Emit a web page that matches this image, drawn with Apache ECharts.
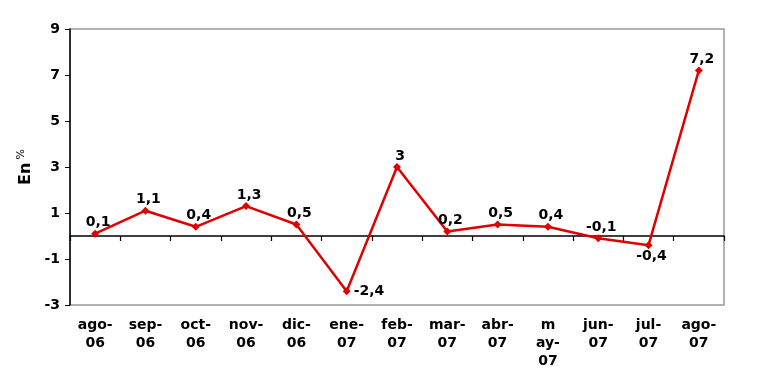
<!DOCTYPE html>
<html>
<head>
<meta charset="utf-8">
<script src="https://cdn.jsdelivr.net/npm/echarts@6/dist/echarts.min.js"></script>
<style>html,body{margin:0;padding:0;background:#fff;}#c{width:760px;height:381px;}</style>
</head>
<body>
<div id="c"></div>
<script>
const categories = ['ago-\n06','sep-\n06','oct-\n06','nov-\n06','dic-\n06','ene-\n07','feb-\n07','mar-\n07','abr-\n07','m\nay-\n07','jun-\n07','jul-\n07','ago-\n07'];
const values = [0.1, 1.1, 0.4, 1.3, 0.5, -2.4, 3, 0.2, 0.5, 0.4, -0.1, -0.4, 7.2];
const labelPos = ['top','top','top','top','top','right','top','top','top','top','top','bottom','top'];

const font = '"DejaVu Sans", Verdana, sans-serif';
const chart = echarts.init(document.getElementById('c'));
chart.setOption({
  animation: false,
  backgroundColor: '#fff',
  grid: { left: 70, right: 36, top: 29, bottom: 76, show: true, borderColor: '#999', borderWidth: 1.5, backgroundColor: '#fff' },
  xAxis: [
    {
      type: 'category', data: categories, position: 'bottom',
      axisLine: { onZero: true, lineStyle: { color: '#000', width: 1.5 } },
      axisTick: { show: true, length: 5, lineStyle: { color: '#000', width: 1.2 } },
      axisLabel: { show: false }
    },
    {
      type: 'category', data: categories, position: 'bottom',
      axisLine: { onZero: false, show: false },
      axisTick: { show: false },
      axisLabel: { show: true, color: '#000', fontFamily: font, fontWeight: 'bold', fontSize: 14, lineHeight: 18, margin: 11, interval: 0 }
    }
  ],
  yAxis: {
    type: 'value', min: -3, max: 9, interval: 2,
    axisLine: { show: true, lineStyle: { color: '#000', width: 1.5 } },
    axisTick: { show: true, length: 5, lineStyle: { color: '#000' } },
    splitLine: { show: false },
    axisLabel: { color: '#000', fontFamily: font, fontWeight: 'bold', fontSize: 14, margin: 10 },
    name: '{a|En} {b|%}',
    nameLocation: 'middle', nameGap: 28, nameRotate: 90,
    nameTextStyle: { rich: {
      a: { fontFamily: font, fontWeight: 'bold', fontSize: 16, color: '#000' },
      b: { fontFamily: font, fontSize: 11, color: '#000', verticalAlign: 'top', padding: [0,0,8,0] }
    } }
  },
  series: [{
    type: 'line', xAxisIndex: 0,
    data: values.map((v, i) => ({ value: v, label: { position: labelPos[i] } })),
    symbol: 'diamond', symbolSize: 8,
    lineStyle: { color: '#e00000', width: 2.5 },
    itemStyle: { color: '#e00000' },
    label: { show: true, color: '#000', fontFamily: font, fontWeight: 'bold', fontSize: 14, distance: 0, offset: [3, 0],
      formatter: p => String(p.value).replace('.', ',') }
  }]
});
</script>
</body>
</html>
